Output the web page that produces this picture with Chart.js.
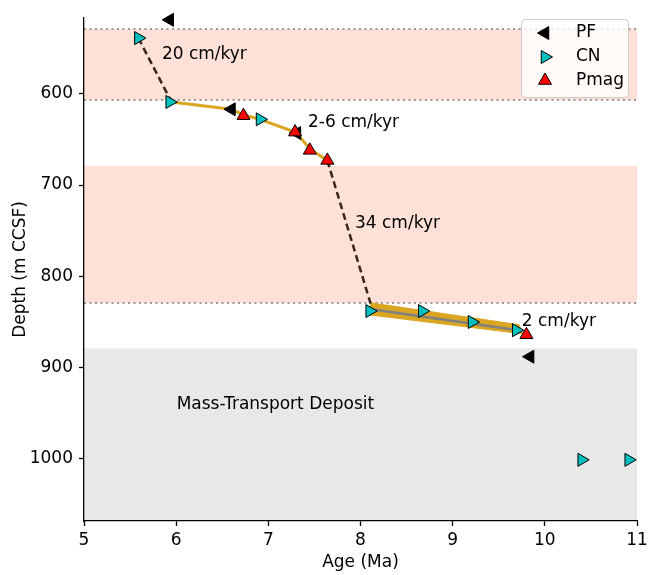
<!DOCTYPE html>
<html>
<head>
<meta charset="utf-8">
<script src="https://cdn.jsdelivr.net/npm/chart.js@4.4.1/dist/chart.umd.min.js"></script>
<style>
  html, body { margin: 0; padding: 0; background: #fff; }
  #wrap { width: 648px; height: 575px; }
</style>
</head>
<body>
<div id="wrap"><canvas id="chart" width="648" height="575"></canvas></div>
<script>
// age (Ma) / depth (m CCSF) of the datums
const pfAge = [5.93, 6.60, 7.31, 9.84];
const pfDepth = [519, 617, 643, 888];
const cnAge = [5.59, 5.93, 6.91, 8.10, 8.67, 9.21, 9.69, 10.40, 10.91];
const cnDepth = [539, 609, 628, 838, 838, 850, 859, 1001, 1001];
const pmagAge = [6.73, 7.29, 7.45, 7.64, 9.80];
const pmagDepth = [624, 642, 662, 673, 864];

// age model pieces
const topDashAge = [5.59, 5.95];
const topDashDepth = [539, 609];
const slowAge = [5.95, 6.60, 6.73, 6.91, 7.29, 7.46, 7.64];
const slowDepth = [609, 617, 623, 628, 642, 661, 673];
const midDashAge = [7.64, 8.11];
const midDashDepth = [673, 830];
const bandAge = [8.11, 9.72, 9.76, 8.08];
const bandDepth = [829, 853, 863, 842];
const bandLineAge = [8.12, 9.71];
const bandLineDepth = [836, 859];

// zones (depth)
const pinkZones = [[529, 607], [679, 829]];
const mtdZone = [879, 1068];
const dottedDepths = [529, 607, 829];

// text labels
const noteText = ["20 cm/kyr", "2-6 cm/kyr", "34 cm/kyr", "2 cm/kyr", "Mass-Transport Deposit"];
const noteAge = [5.845, 7.43, 7.94, 9.75, 6.005];
const noteDepth = [561.5, 636, 747, 854, 945];

const xTicks = [5, 6, 7, 8, 9, 10, 11];
const yTicks = [600, 700, 800, 900, 1000];

const FONT = "DejaVu Sans";
const FSIZE = 17;
const font = { family: FONT, size: FSIZE };

function pts(xs, ys) {
  return xs.map((x, i) => ({ x: x, y: ys[i] }));
}

const zonesPlugin = {
  id: "zones",
  beforeDraw(chart) {
    const { ctx, chartArea: a, scales: { y } } = chart;
    ctx.save();
    ctx.beginPath();
    ctx.rect(a.left, a.top, a.right - a.left, a.bottom - a.top);
    ctx.clip();
    ctx.fillStyle = "#fde0d6";
    pinkZones.forEach(z => {
      const y0 = y.getPixelForValue(z[0]);
      const y1 = y.getPixelForValue(z[1]);
      ctx.fillRect(a.left, y0, a.right - a.left, y1 - y0);
    });
    ctx.fillStyle = "#e8e8e8";
    const g0 = y.getPixelForValue(mtdZone[0]);
    const g1 = y.getPixelForValue(mtdZone[1]);
    ctx.fillRect(a.left, g0, a.right - a.left, g1 - g0);
    ctx.strokeStyle = "#999999";
    ctx.lineWidth = 2;
    ctx.setLineDash([2, 3.5]);
    dottedDepths.forEach(d => {
      const yy = Math.round(y.getPixelForValue(d));
      ctx.beginPath();
      ctx.moveTo(a.left, yy);
      ctx.lineTo(a.right, yy);
      ctx.stroke();
    });
    ctx.restore();
  },
  afterDatasetsDraw(chart) {
    const { ctx, scales: { x, y } } = chart;
    ctx.save();
    ctx.fillStyle = "#000";
    ctx.font = FSIZE + "px '" + FONT + "'";
    ctx.textAlign = "left";
    ctx.textBaseline = "alphabetic";
    noteText.forEach((t, i) => {
      ctx.fillText(t, x.getPixelForValue(noteAge[i]), y.getPixelForValue(noteDepth[i]));
    });
    ctx.restore();
  },
  afterDraw(chart) {
    // legend box in the upper right corner
    const { ctx } = chart;
    ctx.save();
    ctx.fillStyle = "rgba(255,255,255,0.8)";
    ctx.strokeStyle = "#cccccc";
    ctx.lineWidth = 1;
    ctx.beginPath();
    ctx.roundRect(521.5, 19.5, 107, 78, 4);
    ctx.fill();
    ctx.stroke();
    const items = [
      { label: "PF", color: "#000000", rot: -90 },
      { label: "CN", color: "#00bfbf", rot: 90 },
      { label: "Pmag", color: "#ff0000", rot: 0 }
    ];
    const rowY = [33, 57, 80.5];
    items.forEach((it, i) => {
      ctx.fillStyle = it.color;
      ctx.strokeStyle = "#000";
      ctx.lineWidth = 1;
      Chart.helpers.drawPoint(ctx, { pointStyle: "triangle", rotation: it.rot, radius: 7.5, borderWidth: 1 }, 545, rowY[i]);
      ctx.fillStyle = "#000";
      ctx.font = FSIZE + "px '" + FONT + "'";
      ctx.textBaseline = "middle";
      ctx.textAlign = "left";
      ctx.fillText(it.label, 576, rowY[i]);
    });
    ctx.restore();
  }
};

const ctx = document.getElementById("chart").getContext("2d");
new Chart(ctx, {
  type: "scatter",
  data: {
    datasets: [
      {
        label: "band", data: pts(bandAge, bandDepth), showLine: true, fill: "shape",
        backgroundColor: "#daa520", borderColor: "#daa520", borderWidth: 1,
        pointRadius: 0, order: 20
      },
      {
        label: "bandLine", data: pts(bandLineAge, bandLineDepth), showLine: true,
        borderColor: "#808080", borderWidth: 2.5, pointRadius: 0, order: 19
      },
      {
        label: "slow", data: pts(slowAge, slowDepth), showLine: true,
        borderColor: "#daa520", borderWidth: 3, pointRadius: 0, order: 18
      },
      {
        label: "topDash", data: pts(topDashAge, topDashDepth), showLine: true,
        borderColor: "#3b2619", borderWidth: 2.5, borderDash: [7, 4], pointRadius: 0, order: 17
      },
      {
        label: "midDash", data: pts(midDashAge, midDashDepth), showLine: true,
        borderColor: "#3b2619", borderWidth: 2.5, borderDash: [7, 4], pointRadius: 0, order: 16
      },
      {
        label: "PF", data: pts(pfAge, pfDepth), pointStyle: "triangle", pointRotation: -90,
        pointRadius: 7.5, backgroundColor: "#000000", borderColor: "#000", borderWidth: 1, order: 3, clip: false
      },
      {
        label: "CN", data: pts(cnAge, cnDepth), pointStyle: "triangle", pointRotation: 90,
        pointRadius: 7.5, backgroundColor: "#00bfbf", borderColor: "#000", borderWidth: 1, order: 2, clip: false
      },
      {
        label: "Pmag", data: pts(pmagAge, pmagDepth), pointStyle: "triangle", pointRotation: 0,
        pointRadius: 7.5, backgroundColor: "#ff0000", borderColor: "#000", borderWidth: 1, order: 1, clip: false
      }
    ]
  },
  options: {
    responsive: false,
    animation: false,
    layout: { padding: { top: 18, right: 11, left: 0, bottom: 0 } },
    plugins: {
      legend: { display: false },
      tooltip: { enabled: false }
    },
    scales: {
      x: {
        type: "linear", min: 5, max: 11,
        afterBuildTicks: s => { s.ticks = xTicks.map(v => ({ value: v })); },
        afterFit: s => { s.height = 54; s.paddingLeft = 0; s.paddingRight = 0; },
        ticks: { color: "#000", font: font, padding: 4, maxRotation: 0, callback: v => String(v) },
        grid: { drawOnChartArea: false, tickLength: 5, tickColor: "#000", tickWidth: 1.3 },
        border: { color: "#000", width: 1.3 },
        title: { display: true, text: "Age (Ma)", color: "#000", font: font, padding: { top: 0, bottom: 2 } }
      },
      y: {
        type: "linear", reverse: true, min: 517, max: 1068,
        afterBuildTicks: s => { s.ticks = yTicks.map(v => ({ value: v })); },
        afterFit: s => { s.width = 84; s.paddingTop = 0; s.paddingBottom = 0; },
        ticks: { color: "#000", font: font, padding: 6, callback: v => String(v) },
        grid: { drawOnChartArea: false, tickLength: 5, tickColor: "#000", tickWidth: 1.3 },
        border: { color: "#000", width: 1.3 },
        title: { display: true, text: "Depth (m CCSF)", color: "#000", font: font, padding: { top: 10, bottom: 0 } }
      }
    }
  },
  plugins: [zonesPlugin]
});
</script>
</body>
</html>
